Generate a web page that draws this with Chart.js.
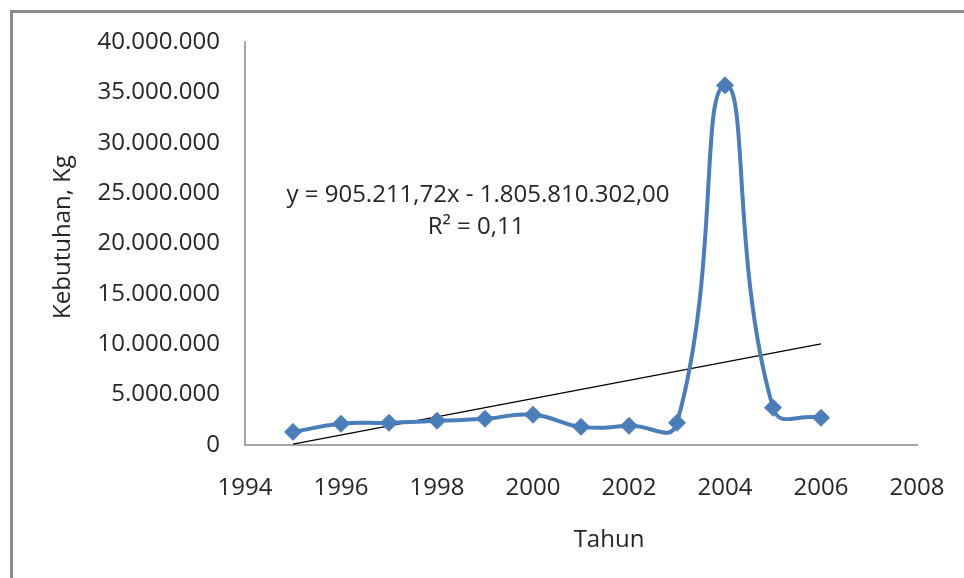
<!DOCTYPE html>
<html>
<head>
<meta charset="utf-8">
<script src="https://cdn.jsdelivr.net/npm/chart.js@4"></script>
<style>
  html, body { margin: 0; padding: 0; background: #fff; overflow: hidden; }
  #frame {
    position: absolute; left: 10px; top: 10px; width: 2000px; height: 2000px;
    border-left: 3px solid #8c8c8c; border-top: 3px solid #8c8c8c;
  }
  #chart { position: absolute; left: 0; top: 0; }
</style>
</head>
<body>
<div id="frame"></div>
<canvas id="chart" width="964" height="578"></canvas>
<script>
// data (kg per year)
const years = [1995, 1996, 1997, 1998, 1999, 2000, 2001, 2002, 2003, 2004, 2005, 2006];
const kebutuhan = [1300000, 2100000, 2200000, 2400000, 2600000, 3000000,
                   1800000, 1900000, 2200000, 35700000, 3700000, 2700000];

// linear trendline end points (as drawn)
const trendYears = [1995, 2006];
const trendValues = [90000, 10040000];

const equationLines = ['y = 905.211,72x - 1.805.810.302,00', 'R² = 0,11'];
const xTitle = 'Tahun';
const yTitle = 'Kebutuhan, Kg';

const FONT = '"Open Sans", sans-serif';
const TEXT = '#262626';

function dotted(v) {
    return String(v).replace(/\B(?=(\d{3})+(?!\d))/g, '.');
}

// equation label + axis titles, placed relative to the plot area like Excel does
const labelsPlugin = {
    id: 'labels',
    afterDraw(chart) {
        const ctx = chart.ctx;
        const a = chart.chartArea;
        ctx.save();
        ctx.fillStyle = TEXT;
        ctx.textAlign = 'center';
        ctx.textBaseline = 'middle';
        ctx.font = '24px ' + FONT;
        ctx.fillText(equationLines[0], a.left + 233, a.top + 153);
        ctx.fillText(equationLines[1], a.left + 231, a.top + 185);
        ctx.fillText(xTitle, a.left + 364, a.bottom + 95);
        ctx.translate(a.left - 182, a.top + 195);
        ctx.rotate(-Math.PI / 2);
        ctx.fillText(yTitle, 0, 0);
        ctx.restore();
    }
};

new Chart(document.getElementById('chart'), {
    type: 'scatter',
    data: {
        datasets: [{
            label: 'Kebutuhan',
            data: years.map((x, i) => ({ x: x, y: kebutuhan[i] })),
            showLine: true,
            borderColor: '#4a7ebb',
            backgroundColor: '#4a7ebb',
            borderWidth: 4,
            tension: 0.5,
            pointStyle: 'rectRot',
            pointRadius: 8.5,
            pointBorderWidth: 1,
            pointHoverRadius: 8.5
        }, {
            label: 'Linear',
            data: trendYears.map((x, i) => ({ x: x, y: trendValues[i] })),
            showLine: true,
            borderColor: '#000',
            borderWidth: 1.2,
            pointRadius: 0,
            pointHoverRadius: 0
        }]
    },
    options: {
        responsive: false,
        devicePixelRatio: 1,
        animation: false,
        layout: { padding: { left: 50, top: 42, right: 47, bottom: 0 } },
        plugins: {
            legend: { display: false },
            tooltip: { enabled: false }
        },
        scales: {
            x: {
                type: 'linear',
                min: 1994, max: 2008,
                afterFit: s => { s.height = 133; s.paddingRight = 0; s.paddingLeft = 0; },
                border: { color: '#a6a6a6', width: 2 },
                grid: { display: false, drawTicks: false },
                ticks: {
                    stepSize: 2,
                    padding: 29,
                    color: TEXT,
                    font: { family: FONT, size: 24 },
                    callback: v => String(v)
                }
            },
            y: {
                min: 0, max: 40000000,
                afterFit: s => { s.width = 195; s.paddingTop = 0; s.paddingBottom = 0; },
                border: { color: '#a6a6a6', width: 2 },
                grid: { display: false, drawTicks: false },
                ticks: {
                    stepSize: 5000000,
                    padding: 25,
                    color: TEXT,
                    font: { family: FONT, size: 24 },
                    callback: v => dotted(v)
                }
            }
        }
    },
    plugins: [labelsPlugin]
});
</script>
</body>
</html>
